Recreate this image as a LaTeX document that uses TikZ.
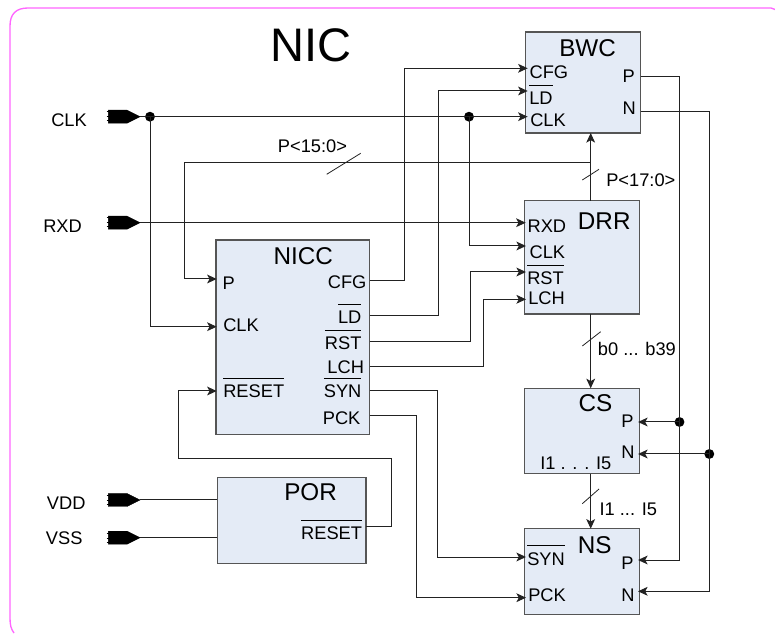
\documentclass[tikz,border=0pt]{standalone}
\usepackage{fontspec}
\setmainfont{Liberation Sans}
\usetikzlibrary{arrows.meta}
\definecolor{frameM}{HTML}{FF66FF}
\definecolor{blockF}{HTML}{E4EBF6}
\definecolor{blockD}{HTML}{555555}
\definecolor{wireC}{HTML}{222222}
\newcommand{\ovl}[1]{\setbox0\hbox{#1}\rlap{\raise 14.2pt\hbox{\rule{\wd0}{0.6pt}}}\box0 }
\tikzset{
  blk/.style 2 args={draw=blockD,fill=blockF,line width=1pt,inner sep=0pt,outer sep=0pt,anchor=north west,
    minimum width={#1*0.75pt},minimum height={#2*0.75pt}},
  wire/.style={draw=wireC,line width=0.75pt},
  arrw/.style={wire,-{Stealth[length=7.2pt,width=6.6pt,inset=1.8pt]}},
  bus/.style={draw=wireC,line width=0.6pt},
  dotn/.style={circle,fill=black,inner sep=0pt,minimum size=7.4pt},
  pinl/.style={inner sep=0pt,anchor=base west,font=\fontsize{13.7}{16}\selectfont},
  pinr/.style={inner sep=0pt,anchor=base east,font=\fontsize{13.7}{16}\selectfont},
  ttl/.style={inner sep=0pt,anchor=base west,font=\fontsize{18.2}{22}\selectfont},
  portb/.style={fill=black,draw=black,line width=0.3pt},
}
\newcommand{\portsym}[2]{%
  \path[portb] (108.3,#2-6.5) -- (127,#2-6.5) -- (140,#2) -- (127,#2+6.5) -- (108.3,#2+6.5) -- cycle;
  \draw[line width=0.3pt] (106.5,#2-5) -- (109,#2-5) (106.5,#2) -- (109,#2) (106.5,#2+4) -- (109,#2+4);
  \coordinate (#1) at (140,#2);}
\begin{document}
\begin{tikzpicture}[x=0.75pt,y=-0.75pt]
\useasboundingbox (0,0) rectangle (775,634);
% frame
\draw[frameM,line width=1pt] (14,633) .. controls (11,629) and (10,625) .. (10,618) -- (10,26)
  .. controls (10,14) and (16,8) .. (28,8) -- (771,8) -- (775,9.5);
% blocks
\node[blk={115}{101}] (bwc) at (525.7,32) {};
\node[blk={115}{113.3}] (drr) at (524.3,200.7) {};
\node[blk={153.7}{194.7}] (nicc) at (216,240) {};
\node[blk={148.7}{85.6}] (por) at (217.3,477.7) {};
\node[blk={115}{85.4}] (cs) at (524.3,388.3) {};
\node[blk={115}{85.6}] (ns) at (524.3,528.7) {};
% ports
\portsym{pCLK}{116.7}
\portsym{pRXD}{222.7}
\portsym{pVDD}{500}
\portsym{pVSS}{537.7}
% pins
\coordinate (nP) at (216.7,279);
\coordinate (nCLK) at (216.7,326.7);
\coordinate (nRESET) at (216.7,391);
\coordinate (nCFG) at (369.7,281);
\coordinate (nLD) at (369.7,316);
\coordinate (nRST) at (369.7,341.7);
\coordinate (nLCH) at (369.7,367);
\coordinate (nSYN) at (369.7,391);
\coordinate (nPCK) at (369.7,415.3);
\coordinate (bCFG) at (527.7,68.3);
\coordinate (bLD) at (527.7,91);
\coordinate (bCLK) at (527.7,116.7);
\coordinate (bP) at (640.7,76.7);
\coordinate (bN) at (640.7,112);
\coordinate (dRXD) at (525.7,222.7);
\coordinate (dCLK) at (526,246);
\coordinate (dRST) at (526,272);
\coordinate (dLCH) at (526,299.3);
\coordinate (cP) at (638,422);
\coordinate (cN) at (638,454);
\coordinate (sSYN) at (526,557);
\coordinate (sPCK) at (526,597.7);
\coordinate (sP) at (638,560);
\coordinate (sN) at (638,591.3);
\coordinate (pRESET) at (366,526);
\coordinate (porA) at (217.3,500);
\coordinate (porB) at (217.3,537.7);
% buses and junction positions
\coordinate (xCFG) at (404.3,200);
\coordinate (xLD) at (438,200);
\coordinate (xRST) at (470.7,300);
\coordinate (xLCH) at (483.7,330);
\coordinate (xSYN) at (437.7,450);
\coordinate (xPCK) at (416.7,500);
\coordinate (xRa) at (391.7,458.3);
\coordinate (xRb) at (178.3,458.3);
\coordinate (xPl) at (184.4,162.7);
\coordinate (xPr) at (590.7,162.7);
\coordinate (xBP) at (679.5,300);
\coordinate (xBN) at (709.3,300);
\node[dotn] (jA) at (150,116.7) {};
\node[dotn] (jB) at (469,116.7) {};
\node[dotn] (jC) at (679.5,422) {};
\node[dotn] (jD) at (709.3,454) {};
% connectors
\draw[arrw] (pCLK) -- (jA.center) -- (jB.center) -- (bCLK);
\draw[arrw] (jA.center) |- (nCLK);
\draw[arrw] (jB.center) |- (dCLK);
\draw[arrw] (pRXD) -- (dRXD);
\draw[wire] (pVDD) -- (porA);
\draw[wire] (pVSS) -- (porB);
\draw[arrw] (nCFG) -- (nCFG -| xCFG) |- (bCFG);
\draw[arrw] (nLD) -- (nLD -| xLD) |- (bLD);
\draw[arrw] (nRST) -- (nRST -| xRST) |- (dRST);
\draw[arrw] (nLCH) -- (nLCH -| xLCH) |- (dLCH);
\draw[arrw] (nSYN) -- (nSYN -| xSYN) |- (sSYN);
\draw[arrw] (nPCK) -- (nPCK -| xPCK) |- (sPCK);
\draw[arrw] (pRESET) -- (pRESET -| xRa) -- (xRa) -- (xRb) |- (nRESET);
\draw[arrw] (drr.north -| xPr) -- (bwc.south -| xPr);
\draw[arrw] (xPr) -- (xPl) |- (nP);
\draw[arrw] (drr.south -| xPr) -- (cs.north -| xPr);
\draw[arrw] (cs.south -| xPr) -- (ns.north -| xPr);
\draw[arrw] (bP) -- (bP -| xBP) |- (sP);
\draw[arrw] (bN) -- (bN -| xBN) |- (sN);
\draw[arrw] (jC.center) -- (cP);
\draw[arrw] (jD.center) -- (cN);
% bus slashes
\coordinate (s1a) at (326.7,174.3); \coordinate (s1b) at (360.7,153.3);
\coordinate (s2a) at (582.3,180); \coordinate (s2b) at (599,169.3);
\coordinate (s3a) at (582.3,346); \coordinate (s3b) at (600.7,331.7);
\coordinate (s4a) at (582.3,503.7); \coordinate (s4b) at (599,489);
\draw[bus] (s1a) -- (s1b);
\draw[bus] (s2a) -- (s2b);
\draw[bus] (s3a) -- (s3b);
\draw[bus] (s4a) -- (s4b);
% texts
\node[inner sep=0pt,anchor=base west,font=\fontsize{35.3}{40}\selectfont] (title) at (270,61.7) {NIC};
\node[pinl] (lCLK) at (51,126.7) {CLK};
\node[pinl] (lRXD) at (43,232.7) {RXD};
\node[pinl] (lVDD) at (46.7,510) {VDD};
\node[pinl] (lVSS) at (45.7,545) {VSS};
\node[pinl] (l15) at (277.7,152.7) {P<15:0>};
\node[pinl] (l17) at (606,186.7) {P<17:0>};
\node[pinl] (lb) at (597.7,356) {b0 ... b39};
\node[pinl] (li) at (599.3,516) {I1 ... I5};
% NICC
\node[ttl] (tN) at (273.3,265) {NICC};
\node[pinl] (nt1) at (222.3,290) {P};
\node[pinl] (nt2) at (223,332) {CLK};
\node[pinl] (nt3) at (223,397.7) {\ovl{RESET}};
\node[pinr] (nt4) at (366.7,288.7) {CFG};
\node[pinr] (nt5) at (361.7,323.3) {\ovl{LD}};
\node[pinr] (nt6) at (361.7,349.3) {\ovl{RST}};
\node[pinr] (nt7) at (364.3,373.3) {LCH};
\node[pinr] (nt8) at (361.7,397.3) {\ovl{SYN}};
\node[pinr] (nt9) at (360.7,425) {PCK};
% BWC
\node[ttl] (tB) at (559,56.7) {BWC};
\node[pinl] (bt1) at (529.3,79) {CFG};
\node[pinl] (bt2) at (529,105) {\ovl{LD}};
\node[pinl] (bt3) at (530,126.7) {CLK};
\node[pinl] (bt4) at (622.3,82.7) {P};
\node[pinl] (bt5) at (622.3,115) {N};
% DRR
\node[ttl] (tD) at (577.7,230) {DRR};
\node[pinl] (dt1) at (527.3,232.7) {RXD};
\node[pinl] (dt2) at (529.3,258.3) {CLK};
\node[pinl] (dt3) at (527,285) {\ovl{RST}};
\node[pinl] (dt4) at (528,305) {LCH};
% CS
\node[ttl] (tC) at (578.3,412) {CS};
\node[pinl] (ct1) at (621,427.7) {P};
\node[pinl] (ct2) at (621,459) {N};
\node[pinl] (ct3) at (540,470) {I1 . . . I5};
% NS
\node[ttl] (tS) at (577.7,553.7) {NS};
\node[pinl] (st1) at (527,565) {\ovl{SYN}};
\node[pinl] (st2) at (528,601.7) {PCK};
\node[pinl] (st3) at (621,569.3) {P};
\node[pinl] (st4) at (621,601) {N};
% POR
\node[ttl] (tP) at (284,500.7) {POR};
\node[pinr] (pt1) at (362.3,539.3) {\ovl{RESET}};
\end{tikzpicture}
\end{document}
